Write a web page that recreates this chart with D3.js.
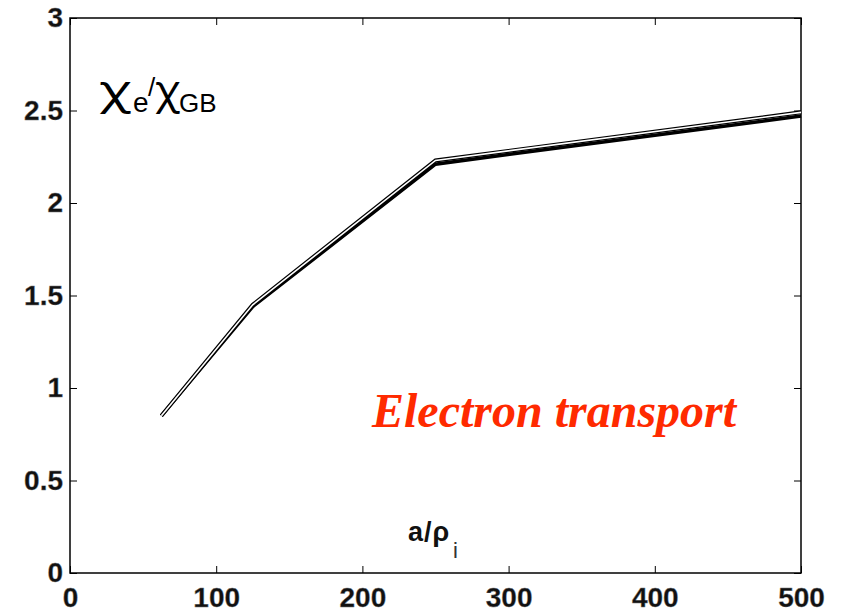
<!DOCTYPE html>
<html>
<head>
<meta charset="utf-8">
<script src="https://cdn.jsdelivr.net/npm/d3@7"></script>
<style>
  body { margin: 0; background: #fff; }
  svg { display: block; }
</style>
</head>
<body>
<svg id="chart" width="844" height="612"></svg>
<script>
// a/rho_i values and chi_e/chi_GB for the overlapping runs
const sizes = [62.5, 125, 250, 500];
const chiOutlined = [0.85, 1.45, 2.23, 2.49];
const chiSolid = [0.85, 1.44, 2.21, 2.47];
const xTicks = [0, 100, 200, 300, 400, 500];
const yTicks = [0, 0.5, 1, 1.5, 2, 2.5, 3];

const margin = { left: 70, right: 43, top: 18, bottom: 39 };
const width = 844, height = 612;

const svg = d3.select("#chart");

const x = d3.scaleLinear().domain([0, 500]).range([margin.left, width - margin.right]);
const y = d3.scaleLinear().domain([0, 3]).range([height - margin.bottom, margin.top]);

// frame
svg.append("rect")
  .attr("x", x(0)).attr("y", y(3))
  .attr("width", x(500) - x(0)).attr("height", y(0) - y(3))
  .attr("fill", "none").attr("stroke", "black").attr("stroke-width", 1.5);

const tickFont = "Liberation Sans, Arial, sans-serif";

function styleLabels(g) {
  g.selectAll("text")
    .attr("font-size", 28).attr("font-weight", "bold")
    .attr("font-family", tickFont).attr("fill", "#111")
    .attr("stroke", "#777").attr("stroke-width", 0.4);
}

// bottom axis, ticks point inward
svg.append("g")
  .attr("transform", `translate(0,${y(0)})`)
  .call(d3.axisBottom(x).tickValues(xTicks).tickSize(-7).tickPadding(14).tickFormat(d3.format("d")))
  .call((g) => g.select(".domain").remove())
  .call(styleLabels);

// top ticks
svg.append("g")
  .attr("transform", `translate(0,${y(3)})`)
  .call(d3.axisTop(x).tickValues(xTicks).tickSize(-7).tickFormat(""))
  .call((g) => g.select(".domain").remove());

// left axis
svg.append("g")
  .attr("transform", `translate(${x(0)},0)`)
  .call(d3.axisLeft(y).tickValues(yTicks).tickSize(-7).tickPadding(7).tickFormat((d) => d))
  .call((g) => g.select(".domain").remove())
  .call(styleLabels);

// right ticks
svg.append("g")
  .attr("transform", `translate(${x(500)},0)`)
  .call(d3.axisRight(y).tickValues(yTicks).tickSize(-7).tickFormat(""))
  .call((g) => g.select(".domain").remove());

svg.selectAll(".tick line").attr("stroke", "black").attr("stroke-width", 1);

const line = d3.line().x((d) => x(d[0])).y((d) => y(d[1]));

// solid run
svg.append("path")
  .datum(d3.zip(sizes, chiSolid))
  .attr("d", line)
  .attr("fill", "none").attr("stroke", "black").attr("stroke-width", 3.5);

// outlined run (black edge, white core)
const outlined = d3.zip(sizes, chiOutlined);
svg.append("path")
  .datum(outlined)
  .attr("d", line)
  .attr("fill", "none").attr("stroke", "black").attr("stroke-width", 4);
svg.append("path")
  .datum(outlined)
  .attr("d", line)
  .attr("fill", "none").attr("stroke", "white").attr("stroke-width", 1.6);

// y label chi_e / chi_GB, built from pieces
const yLab = svg.append("g").attr("font-family", tickFont).attr("fill", "black");
function chi(x0, w) {
  yLab.append("text")
    .attr("x", x0).attr("y", 104)
    .attr("font-family", "Noto Sans, DejaVu Sans, sans-serif")
    .attr("font-size", 40)
    .attr("textLength", w).attr("lengthAdjust", "spacingAndGlyphs")
    .text("χ");
}
chi(99, 32);
yLab.append("text").attr("x", 133).attr("y", 112).attr("font-size", 28).text("e");
yLab.append("text").attr("x", 148).attr("y", 96).attr("font-size", 26).text("/");
chi(155, 25);
yLab.append("text").attr("x", 179).attr("y", 112).attr("font-size", 26).text("GB");

// x label a / rho_i
const xl = svg.append("text")
  .attr("x", 408).attr("y", 541)
  .attr("font-family", tickFont).attr("font-size", 27).attr("font-weight", "bold")
  .attr("letter-spacing", 1).attr("fill", "#111");
xl.append("tspan").text("a/ρ");
xl.append("tspan").attr("x", 453).attr("y", 558)
  .attr("font-size", 22).attr("font-weight", "normal").attr("letter-spacing", 0).attr("fill", "#333").text("i");

// annotation
svg.append("text")
  .attr("x", 372).attr("y", 427)
  .attr("font-family", "Liberation Serif, Times New Roman, serif")
  .attr("font-size", 48).attr("font-weight", "bold").attr("font-style", "italic")
  .attr("fill", "#ff2a00")
  .text("Electron transport");
</script>
</body>
</html>
